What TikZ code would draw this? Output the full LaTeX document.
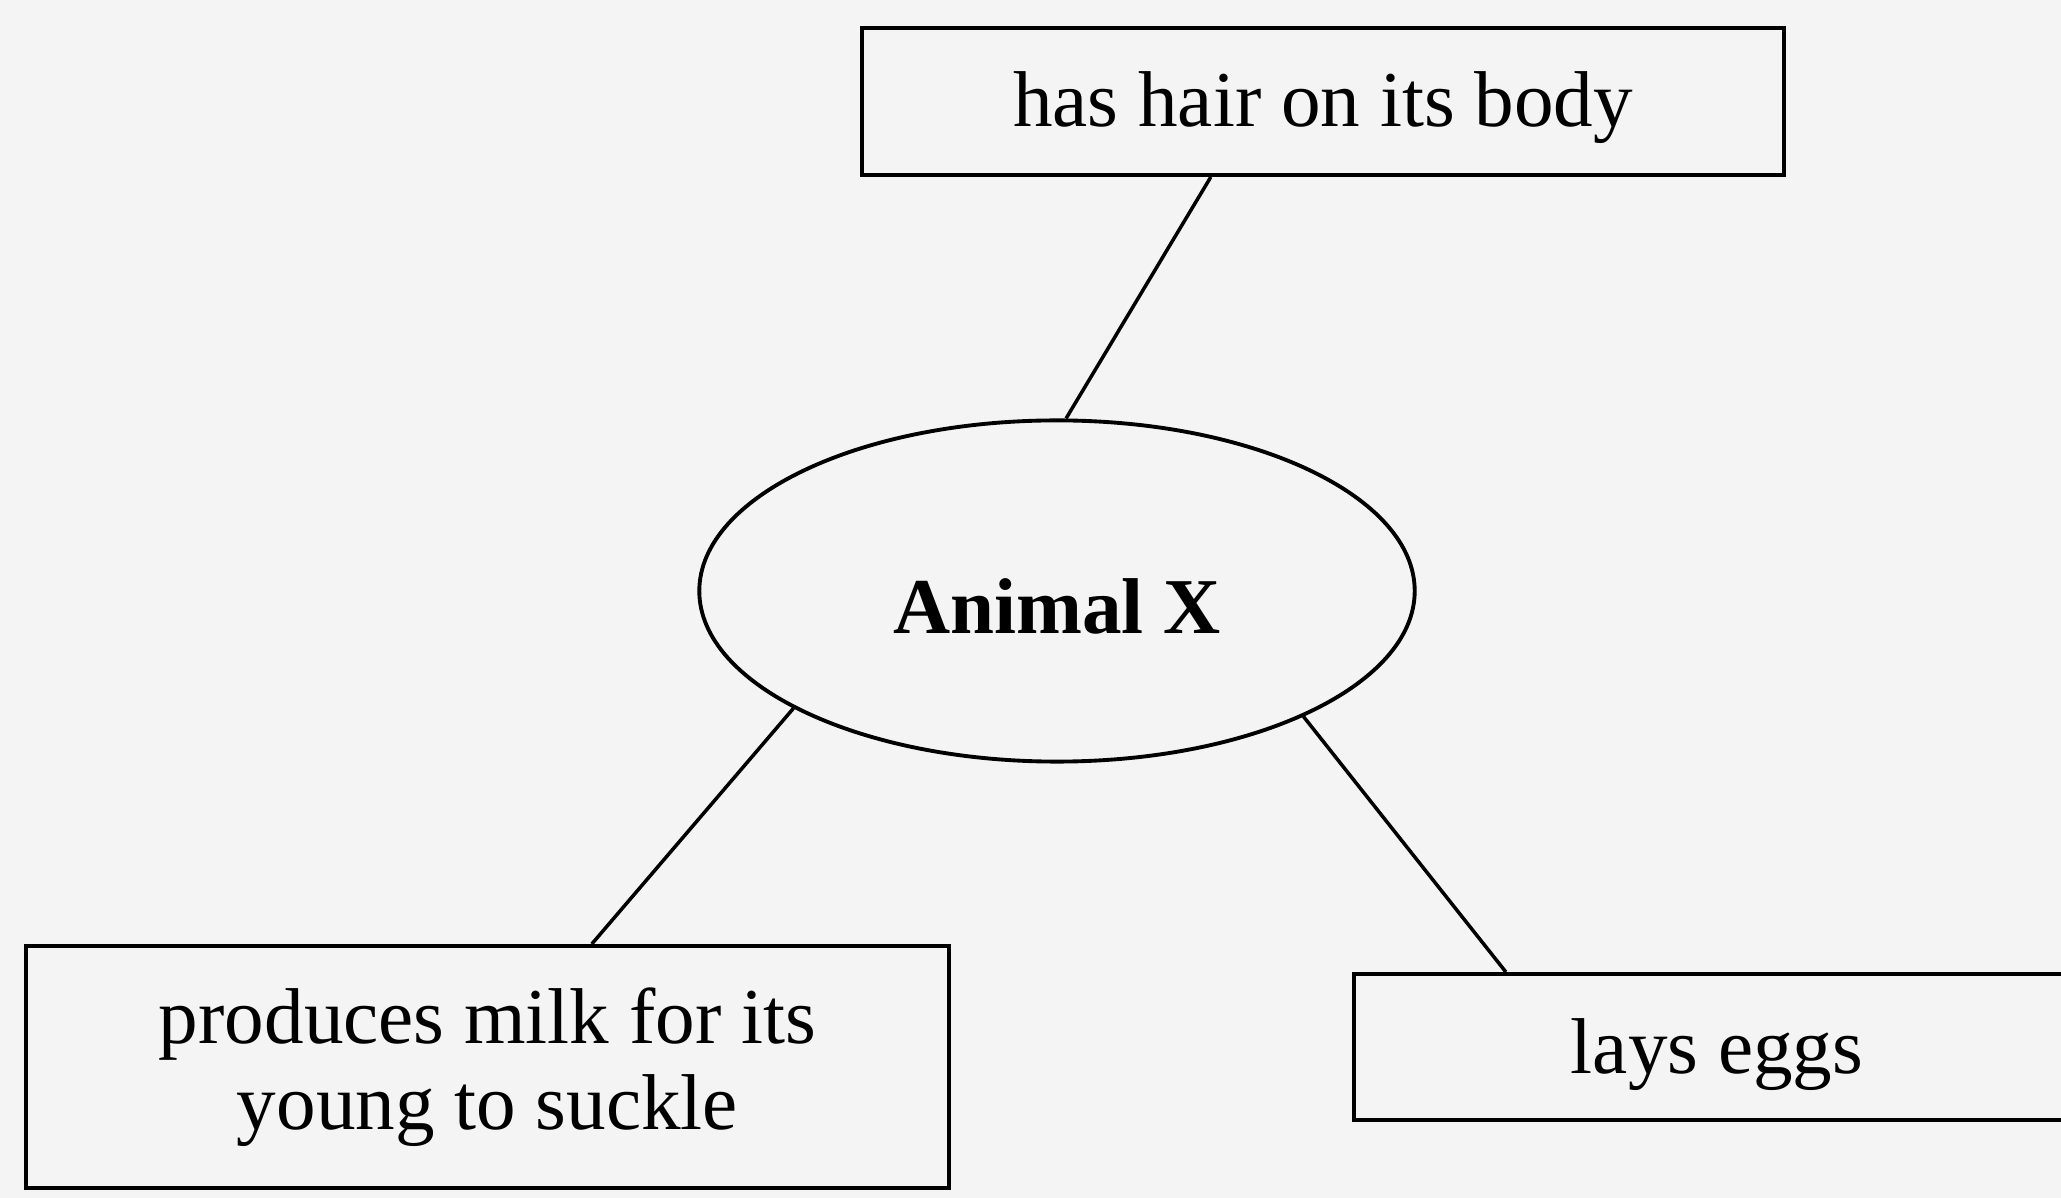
\documentclass[tikz,border=0pt]{standalone}
\usepackage{fontspec}
\setmainfont{Liberation Serif}
\usetikzlibrary{shapes.geometric,calc}
\definecolor{paper}{HTML}{F4F4F4}
\tikzset{
  box/.style={draw=black, line width=1.1pt, rectangle, inner sep=0pt, align=center,
    font=\fontsize{22.5}{24.5}\selectfont},
  oval/.style={draw=black, line width=1.1pt, ellipse, inner sep=0pt,
    font=\fontsize{22.5}{24.5}\selectfont\bfseries},
  link/.style={draw=black, line width=1pt}
}
\begin{document}
\begin{tikzpicture}[x=0.01cm, y=-0.01cm]
\clip (0,0) rectangle (2061,1198);
\fill[paper] (0,0) rectangle (2061,1198);
\node[box, minimum width=9.22cm, minimum height=1.47cm] (hair) at (1323,101.5) {\smash{\raisebox{-0.25cm}{has hair on its body}}};
\node[oval, minimum width=7.15cm, minimum height=3.41cm] (x) at (1057,591) {\smash{\raisebox{-0.42cm}{Animal X}}};
\node[box, minimum width=9.23cm, minimum height=2.42cm] (milk) at (487.5,1067) {produces milk for its\\young to suckle};
\node[box, minimum width=7.26cm, minimum height=1.46cm] (eggs) at (1717,1047) {\smash{\raisebox{-0.26cm}{lays eggs}}};
\draw[link] ($(hair.south west)+(351,0)$) -- (x.87);
\draw[link] (x.204) -- ($(milk.north west)+(568,0)$);
\draw[link] (x.333) -- ($(eggs.north west)+(154,0)$);
\end{tikzpicture}
\end{document}
